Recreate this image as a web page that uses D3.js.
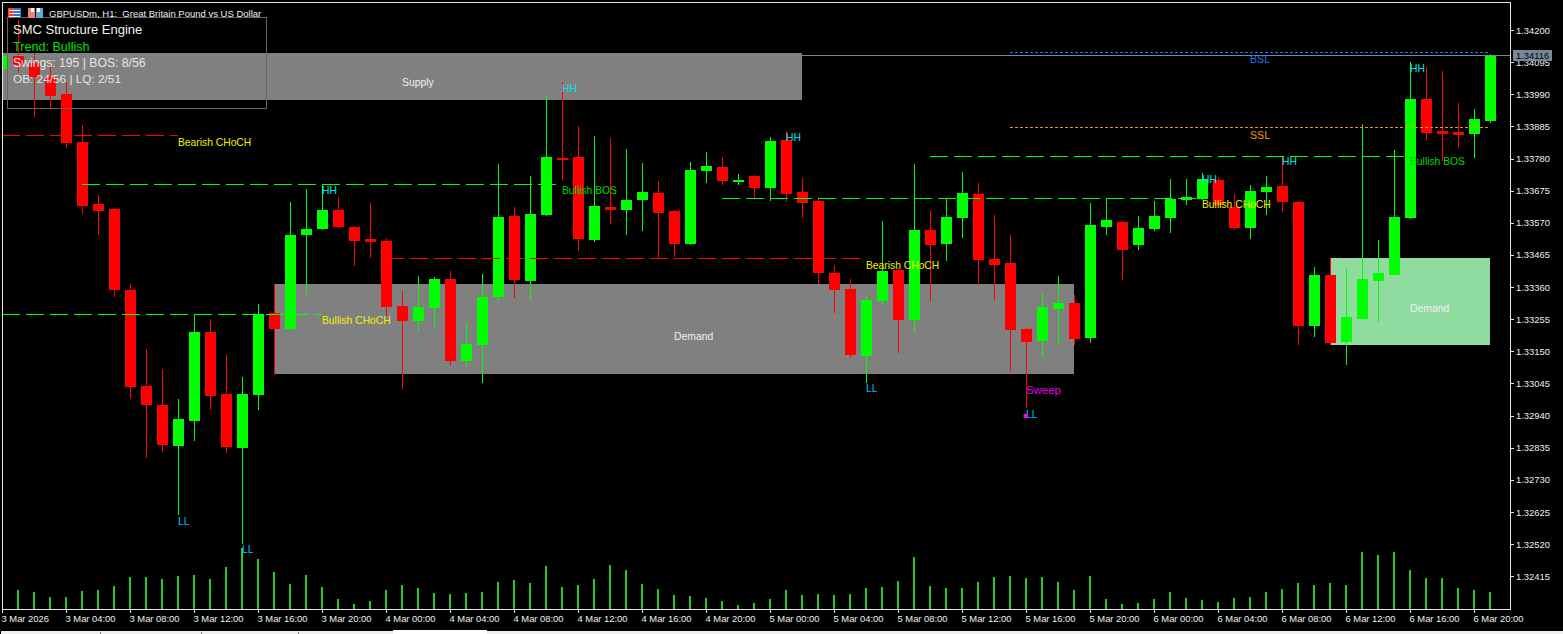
<!DOCTYPE html>
<html lang="en">
<head>
  <meta charset="UTF-8">
  <title>GBPUSDm H1 - SMC Structure Engine</title>
  <script src="https://d3js.org/d3.v7.min.js"></script>
  <style>
    html, body { margin: 0; padding: 0; background: #000; overflow: hidden; }
    svg { display: block; font-family: "Liberation Sans", Arial, sans-serif; }
    text { white-space: pre; }
    .axis text { fill: #f0f0f0; font-size: 9.4px; font-family: "Liberation Sans", Arial, sans-serif; }
    .axis line { stroke: #e6e6e6; shape-rendering: crispEdges; }
    .note { font-size: 10.3px; dominant-baseline: central; }
  </style>
</head>
<body>
  <svg id="chart" width="1563" height="634"></svg>

  <script>
    // candles, oldest first
    const opens = [
      1.34073,1.34115,1.34092,1.34046,1.33991,1.33834,1.33631,1.33615,1.33350,1.33037,
      1.32974,1.32840,1.32922,1.33213,1.33010,1.32834,1.33007,1.33275,1.33223,1.33530,
      1.33550,1.33612,1.33556,1.33517,1.33510,1.33298,1.33249,1.33291,1.33386,1.33118,
      1.33171,1.33327,1.33592,1.33380,1.33595,1.33782,1.33785,1.33514,1.33622,1.33612,
      1.33644,1.33667,1.33608,1.33501,1.33739,1.33752,1.33703,1.33723,1.33684,1.33840,
      1.33671,1.33641,1.33406,1.33354,1.33135,1.33314,1.33416,1.33252,1.33546,1.33501,
      1.33586,1.33664,1.33452,1.33439,1.33223,1.33184,1.33288,1.33308,1.33193,1.33556,
      1.33573,1.33497,1.33550,1.33586,1.33644,1.33648,1.33710,1.33622,1.33553,1.33671,
      1.33690,1.33638,1.33233,1.33399,1.33180,1.33255,1.33380,1.33399,1.33586,1.33974,
      1.33870,1.33867,1.33860,1.33903
    ];
    const highs = [
      1.34135,1.34233,1.34125,1.34092,1.34030,1.33890,1.33661,1.33617,1.33370,1.33157,
      1.33092,1.32994,1.33272,1.33255,1.33138,1.33066,1.33305,1.33370,1.33638,1.33680,
      1.33697,1.33654,1.33559,1.33635,1.33520,1.33347,1.33396,1.33393,1.33412,1.33242,
      1.33403,1.33762,1.33622,1.33723,1.33991,1.34030,1.33886,1.33854,1.33847,1.33811,
      1.33765,1.33706,1.33612,1.33769,1.33801,1.33785,1.33729,1.33726,1.33850,1.33870,
      1.33716,1.33654,1.33432,1.33386,1.33334,1.33576,1.33422,1.33762,1.33608,1.33651,
      1.33736,1.33700,1.33595,1.33530,1.33225,1.33340,1.33396,1.33334,1.33635,1.33651,
      1.33575,1.33592,1.33641,1.33713,1.33713,1.33733,1.33720,1.33664,1.33693,1.33723,
      1.33785,1.33640,1.33425,1.33455,1.33422,1.33893,1.33514,1.33808,1.34095,1.34079,
      1.34066,1.33961,1.33942,1.34122
    ];
    const lows = [
      1.34063,1.34059,1.33916,1.33945,1.33814,1.33599,1.33530,1.33327,1.32994,1.32801,
      1.32821,1.32615,1.32857,1.32958,1.32818,1.32520,1.32958,1.33072,1.33220,1.33334,
      1.33546,1.33554,1.33429,1.33455,1.33265,1.33027,1.33216,1.33223,1.33105,1.33099,
      1.33046,1.33318,1.33324,1.33318,1.33593,1.33710,1.33478,1.33507,1.33566,1.33530,
      1.33543,1.33452,1.33458,1.33499,1.33700,1.33693,1.33693,1.33651,1.33641,1.33638,
      1.33586,1.33370,1.33275,1.33128,1.33046,1.33298,1.33144,1.33213,1.33314,1.33445,
      1.33520,1.33367,1.33318,1.33086,1.32965,1.33135,1.33171,1.33171,1.33177,1.33530,
      1.33383,1.33481,1.33543,1.33537,1.33628,1.33646,1.33626,1.33546,1.33517,1.33595,
      1.33605,1.33171,1.33197,1.33171,1.33105,1.33249,1.33246,1.33396,1.33582,1.33840,
      1.33772,1.33814,1.33782,1.33896
    ];
    const closes = [
      1.34115,1.34086,1.34046,1.33984,1.33831,1.33625,1.33608,1.33350,1.33033,1.32974,
      1.32844,1.32929,1.33213,1.33004,1.32837,1.33010,1.33272,1.33223,1.33530,1.33550,
      1.33612,1.33556,1.33510,1.33507,1.33295,1.33249,1.33295,1.33386,1.33118,1.33174,
      1.33327,1.33589,1.33383,1.33599,1.33785,1.33778,1.33517,1.33625,1.33612,1.33644,
      1.33671,1.33602,1.33501,1.33742,1.33756,1.33706,1.33710,1.33684,1.33837,1.33664,
      1.33635,1.33406,1.33350,1.33138,1.33318,1.33412,1.33252,1.33546,1.33497,1.33589,
      1.33667,1.33448,1.33432,1.33220,1.33180,1.33295,1.33308,1.33190,1.33563,1.33579,
      1.33481,1.33553,1.33592,1.33648,1.33654,1.33713,1.33628,1.33553,1.33674,1.33687,
      1.33638,1.33233,1.33399,1.33177,1.33262,1.33386,1.33406,1.33589,1.33974,1.33863,
      1.33860,1.33857,1.33909,1.34116
    ];
    const volumes = [
      18,19,17,12,12,18,19,23,32,32,30,33,34,30,42,61,50,37,25,34,
      22,10,5,8,19,24,21,16,15,16,17,27,29,26,43,22,24,30,44,39,
      25,20,14,13,11,8,4,6,10,19,14,15,14,15,21,22,28,52,23,21,
      21,27,32,33,31,32,27,19,33,10,5,6,10,17,11,9,7,11,12,17,
      20,26,24,26,24,57,54,57,39,31,31,21,19,17
    ];
    const lastPrice = 1.34116;

    const priceTicks = [
      1.34200,1.34095,1.33990,1.33885,1.33780,1.33675,1.33570,1.33465,1.33360,
      1.33255,1.33150,1.33045,1.32940,1.32835,1.32730,1.32625,1.32520,1.32415
    ];
    // one label every 4 bars
    const timeLabels = [
      "3 Mar 2026","3 Mar 04:00","3 Mar 08:00","3 Mar 12:00","3 Mar 16:00","3 Mar 20:00",
      "4 Mar 00:00","4 Mar 04:00","4 Mar 08:00","4 Mar 12:00","4 Mar 16:00","4 Mar 20:00",
      "5 Mar 00:00","5 Mar 04:00","5 Mar 08:00","5 Mar 12:00","5 Mar 16:00","5 Mar 20:00",
      "6 Mar 00:00","6 Mar 04:00","6 Mar 08:00","6 Mar 12:00","6 Mar 16:00","6 Mar 20:00"
    ];

    // order blocks: [label, first bar, last bar, top price, bottom price, label bar, label price]
    const zones = [
      ["Supply", 0, 50, 1.34125, 1.33971, 25, 1.34027],
      ["Demand", 17, 67, 1.33370, 1.33076, 42, 1.33200],
      ["Demand", 83, 93, 1.33455, 1.33171, 88, 1.33291]
    ];
    // structure breaks: [label, first bar, last bar, level, label price, kind]
    const levels = [
      ["Bearish CHoCH", 0, 11, 1.33857, 1.33831, "bear"],
      ["Bullish BOS", 5, 35, 1.33697, 1.33677, "bull"],
      ["Bullish CHoCH", 0, 20, 1.33272, 1.33252, "bull"],
      ["Bearish CHoCH", 24, 54, 1.33455, 1.33429, "bear"],
      ["Bullish CHoCH", 45, 75, 1.33651, 1.33631, "bull"],
      ["Bullish BOS", 58, 88, 1.33788, 1.33769, "bull"]
    ];
    // liquidity: [label, first bar, last bar, level, label bar, label price, colour]
    const liquidity = [
      ["BSL", 63, 93, 1.34127, 78, 1.34105, "#1e78e6"],
      ["SSL", 63, 93, 1.33883, 78, 1.33857, "#f0960a"]
    ];
    // swing labels: [label, bar, price]
    const swings = [
      ["HH", 20, 1.33677], ["HH", 35, 1.34010], ["HH", 49, 1.33850], ["HH", 75, 1.33710],
      ["HH", 80, 1.33769], ["HH", 88, 1.34073],
      ["LL", 11, 1.32595], ["LL", 15, 1.32501], ["LL", 54, 1.33027], ["LL", 64, 1.32942]
    ];
    const panelLines = [
      ["SMC Structure Engine", "#f0f0f0", 13, 29.5],
      ["Trend: Bullish", "#00e000", 12.6, 46.5],
      ["Swings: 195 | BOS: 8/56", "#e6e6e6", 12.2, 62.5],
      ["OB: 24/56 | LQ: 2/51", "#e6e6e6", 11.8, 78.5]
    ];

    const RIGHT = 1510, BOTTOM = 609, TOP = 2, LEFT = 2;
    const BULL = "#00ff00", BEAR = "#ff0000";

    const svg = d3.select("#chart");
    const x = d3.scaleLinear().domain([0, 94.25]).range([LEFT, RIGHT]);
    const y = d3.scaleLinear().domain([1.342917, 1.32308]).range([TOP, BOTTOM]);
    const vol = d3.scaleLinear().domain([0, 100]).range([BOTTOM, BOTTOM - 100]);
    const px = v => Math.round(y(v));

    svg.append("defs").append("clipPath").attr("id", "plot")
       .append("rect").attr("x", LEFT + 1).attr("y", TOP + 1)
       .attr("width", RIGHT - LEFT - 1).attr("height", BOTTOM - TOP - 1);

    const plot = svg.append("g").attr("clip-path", "url(#plot)").attr("shape-rendering", "crispEdges");

    // volume
    plot.append("g").selectAll("rect").data(volumes).enter().append("rect")
        .attr("x", (d, i) => x(i) - 1)
        .attr("y", d => Math.round(vol(d)))
        .attr("width", 2)
        .attr("height", d => BOTTOM - Math.round(vol(d)))
        .attr("fill", "#28c828");

    // zones sit under the candles
    plot.append("g").selectAll("rect").data(zones).enter().append("rect")
        .attr("x", d => x(d[1]) + 1)
        .attr("y", d => px(d[3]))
        .attr("width", d => x(d[2]) - x(d[1]) - 1)
        .attr("height", d => px(d[4]) - px(d[3]))
        .attr("fill", (d, i) => i === 2 ? "#8fdba0" : "#808080");

    // candles
    const candles = plot.append("g").selectAll("g").data(opens).enter().append("g")
        .attr("fill", (d, i) => closes[i] >= opens[i] ? BULL : BEAR);
    candles.append("rect")
        .attr("x", (d, i) => x(i))
        .attr("y", (d, i) => px(highs[i]))
        .attr("width", 1)
        .attr("height", (d, i) => px(lows[i]) - px(highs[i]));
    candles.append("rect")
        .attr("x", (d, i) => x(i) - 5)
        .attr("y", (d, i) => px(Math.max(opens[i], closes[i])))
        .attr("width", 11)
        .attr("height", (d, i) => Math.max(2, px(Math.min(opens[i], closes[i])) - px(Math.max(opens[i], closes[i]))));

    // dashed levels
    plot.append("g").selectAll("line").data(levels).enter().append("line")
        .attr("x1", d => x(d[1]))
        .attr("x2", d => x(d[2]))
        .attr("y1", d => px(d[3]) + 0.5)
        .attr("y2", d => px(d[3]) + 0.5)
        .attr("stroke", d => d[5] === "bull" ? BULL : BEAR)
        .attr("stroke-dasharray", "18 6");
    plot.append("g").selectAll("line").data(liquidity).enter().append("line")
        .attr("x1", d => x(d[1]))
        .attr("x2", d => x(d[2]) - 2)
        .attr("y1", d => px(d[3]) + 0.5)
        .attr("y2", d => px(d[3]) + 0.5)
        .attr("stroke", d => d[6])
        .attr("stroke-dasharray", "3 2");

    // current price line
    plot.append("line")
        .attr("x1", LEFT).attr("x2", RIGHT)
        .attr("y1", Math.floor(y(lastPrice)) + 0.5).attr("y2", Math.floor(y(lastPrice)) + 0.5)
        .attr("stroke", "#778899");

    // text on the chart
    const notes = svg.append("g");
    notes.selectAll("text.zone").data(zones).enter().append("text")
        .attr("class", "note zone")
        .attr("x", d => x(d[5])).attr("y", d => y(d[6]))
        .style("font-size", "10.4px")
        .attr("fill", "#f0f0f0").text(d => d[0]);
    notes.selectAll("text.level").data(levels).enter().append("text")
        .attr("class", "note level")
        .attr("x", d => x(d[2])).attr("y", d => y(d[4]))
        .attr("fill", d => d[0].includes("BOS") ? "#00d800" : "#f0f000").text(d => d[0]);
    notes.selectAll("text.liq").data(liquidity).enter().append("text")
        .attr("class", "note liq")
        .attr("x", d => x(d[4])).attr("y", d => y(d[5]))
        .style("font-size", "10.6px")
        .attr("fill", d => d[6]).text(d => d[0]);
    notes.selectAll("text.swing").data(swings).enter().append("text")
        .attr("class", "note swing")
        .attr("x", d => x(d[1])).attr("y", d => y(d[2]))
        .attr("fill", d => d[0] === "HH" ? "#00e6e6" : "#00bfff").text(d => d[0]);

    // liquidity sweep
    notes.append("text").attr("class", "note")
        .attr("x", x(64)).attr("y", y(1.33024))
        .style("font-size", "11.4px")
        .attr("fill", "#e600e6").text("Sweep");
    notes.append("circle")
        .attr("cx", x(64) - 0.5).attr("cy", y(1.32942) + 1).attr("r", 2.2)
        .attr("fill", "#ff00ff");

    // info panel
    svg.append("rect").attr("x", 7.5).attr("y", 17.5).attr("width", 259).attr("height", 91)
       .attr("fill", "none").attr("stroke", "#646464");
    svg.append("g").selectAll("text").data(panelLines).enter().append("text")
       .attr("x", 13).attr("y", d => d[3])
       .attr("dominant-baseline", "central")
       .attr("fill", d => d[1]).attr("font-size", d => d[2]).text(d => d[0]);

    // axes
    const xAxis = svg.append("g").attr("class", "axis")
        .attr("transform", `translate(0,${BOTTOM})`)
        .call(d3.axisBottom(x)
          .tickValues(timeLabels.map((d, i) => i * 4))
          .tickFormat((d, i) => timeLabels[i])
          .tickSize(4));
    xAxis.select(".domain").remove();
    xAxis.selectAll("text").attr("text-anchor", "start").attr("x", -1).attr("y", 6);

    const yAxis = svg.append("g").attr("class", "axis")
        .attr("transform", `translate(${RIGHT},0)`)
        .call(d3.axisRight(y).tickValues(priceTicks).tickFormat(d3.format(".5f")).tickSize(4).tickPadding(2));
    yAxis.select(".domain").remove();

    // chart frame
    svg.append("rect")
       .attr("x", LEFT + 0.5).attr("y", TOP + 0.5)
       .attr("width", RIGHT - LEFT).attr("height", BOTTOM - TOP)
       .attr("fill", "none").attr("stroke", "#e6e6e6").attr("shape-rendering", "crispEdges");

    // last price tag
    svg.append("rect").attr("x", 1513).attr("y", 50).attr("width", 39).attr("height", 11).attr("fill", "#778899");
    svg.append("text").attr("x", 1516).attr("y", 55.5).attr("dominant-baseline", "central")
       .attr("font-size", 9.4).attr("fill", "#000").text(d3.format(".5f")(lastPrice));

    // chart title and its two small icons
    svg.append("text").attr("x", 49).attr("y", 13).attr("dominant-baseline", "central")
       .attr("font-size", 9.5).attr("fill", "#f0f0f0")
       .text("GBPUSDm, H1:  Great Britain Pound vs US Dollar");

    const icons = svg.append("g").attr("shape-rendering", "crispEdges");
    icons.append("rect").attr("x", 8).attr("y", 8).attr("width", 6).attr("height", 10).attr("fill", "#f04030");
    icons.append("rect").attr("x", 14).attr("y", 8).attr("width", 7).attr("height", 10).attr("fill", "#2878d0");
    [10, 13, 16].forEach(r => {
      icons.append("rect").attr("x", 9).attr("y", r).attr("width", 11).attr("height", 1).attr("fill", "#fff");
    });
    icons.append("rect").attr("x", 28).attr("y", 8).attr("width", 7).attr("height", 10).attr("fill", "#f08070");
    icons.append("rect").attr("x", 36).attr("y", 8).attr("width", 7).attr("height", 10).attr("fill", "#60a8e8");
    icons.append("rect").attr("x", 31).attr("y", 8).attr("width", 3).attr("height", 4).attr("fill", "#fff");
    icons.append("rect").attr("x", 37).attr("y", 8).attr("width", 3).attr("height", 4).attr("fill", "#fff");

    // tab strip at the window's bottom edge
    const tabs = svg.append("g").attr("shape-rendering", "crispEdges");
    tabs.append("rect").attr("x", 1).attr("y", 631).attr("width", 1562).attr("height", 3).attr("fill", "#f0f0f0");
    tabs.append("rect").attr("x", 393).attr("y", 630).attr("width", 94).attr("height", 4).attr("fill", "#fff");
    [100, 201, 298].forEach(t => {
      tabs.append("rect").attr("x", t).attr("y", 632).attr("width", 1).attr("height", 2).attr("fill", "#808080");
    });
  </script>
</body>
</html>
